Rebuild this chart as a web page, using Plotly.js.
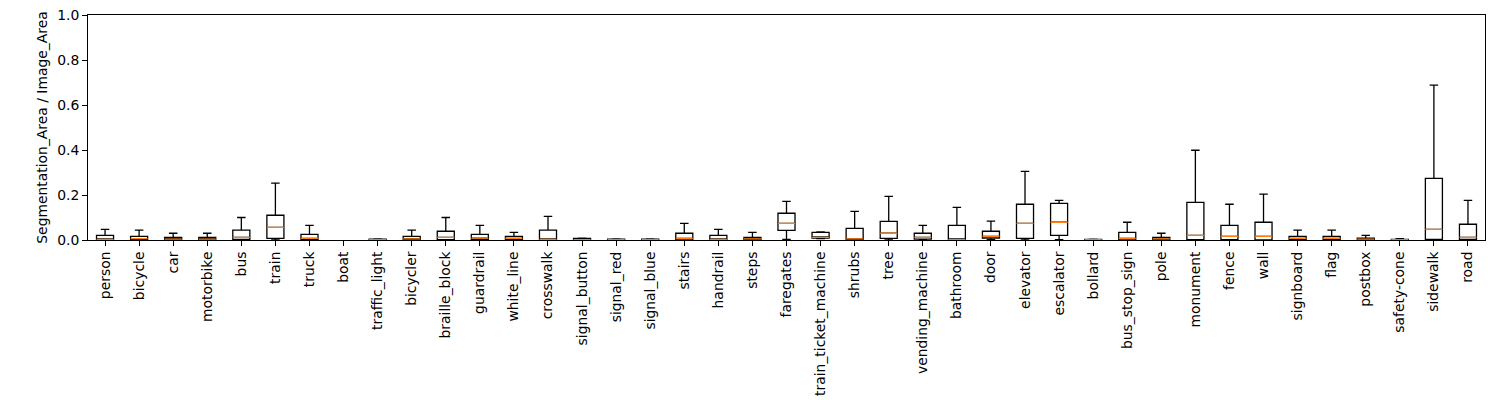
<!DOCTYPE html>
<html>
<head>
<meta charset="utf-8">
<script src="https://cdn.plot.ly/plotly-3.0.1.min.js"></script>
<style>html,body{margin:0;padding:0;background:#fff;}#chart{width:1500px;height:400px;}</style>
</head>
<body>
<div id="chart"></div>
<script>
const categories = ["person","bicycle","car","motorbike","bus","train","truck","boat","traffic_light","bicycler","braille_block","guardrail","white_line","crosswalk","signal_button","signal_red","signal_blue","stairs","handrail","steps","faregates","train_ticket_machine","shrubs","tree","vending_machine","bathroom","door","elevator","escalator","bollard","bus_stop_sign","pole","monument","fence","wall","signboard","flag","postbox","safety-cone","sidewalk","road"];

const lowerWhisker = [0,0,0,0,0,0,0,null,0,0,0,0,0,0,0,0,0,0,0,0,0.003,0.006,0,0,0,0,0.002,0,0.002,0,0,0,0,0,0,0,0,0,0,0,0];
const q1 = [0.001,0.002,0.002,0.002,0.003,0.0075,0.002,null,0.001,0.002,0.002,0.002,0.002,0.001,0.001,0.001,0.001,0.001,0.001,0.002,0.043,0.009,0.001,0.007,0.004,0.0005,0.009,0.007,0.021,0.001,0.001,0.001,0.002,0.002,0.001,0.002,0.002,0.001,0.001,0.003,0.003];
const medians = [0.003,0.006,0.004,0.004,0.012,0.056,0.007,null,0.002,0.005,0.012,0.008,0.007,0.003,0.002,0.002,0.002,0.007,0.003,0.005,0.074,0.012,0.005,0.030,0.012,0.002,0.016,0.074,0.079,0.002,0.007,0.005,0.021,0.016,0.016,0.007,0.007,0.004,0.002,0.047,0.012];
const q3 = [0.021,0.016,0.012,0.012,0.044,0.110,0.025,null,0.004,0.016,0.039,0.025,0.016,0.044,0.007,0.004,0.004,0.030,0.021,0.012,0.119,0.034,0.052,0.083,0.030,0.065,0.039,0.159,0.163,0.003,0.034,0.012,0.167,0.065,0.079,0.016,0.016,0.008,0.003,0.274,0.070];
const upperWhisker = [0.047,0.044,0.030,0.030,0.100,0.253,0.065,null,0.005,0.044,0.100,0.065,0.034,0.105,0.008,0.005,0.005,0.074,0.047,0.034,0.172,0.036,0.127,0.194,0.065,0.145,0.084,0.305,0.176,0.004,0.079,0.030,0.399,0.159,0.204,0.044,0.044,0.021,0.006,0.688,0.176];

const yTickVals = [0,0.2,0.4,0.6,0.8,1.0];
const yTickText = ["0.0","0.2","0.4","0.6","0.8","1.0"];

// keep only categories that have data (boat has none)
const idx = categories.map((c, i) => i).filter(i => medians[i] !== null);
const pick = arr => idx.map(i => arr[i]);

const FONT = 'DejaVu Sans, sans-serif';
const FS = 13.9;

const boxes = {
  type: 'box',
  x: pick(categories),
  q1: pick(q1),
  median: pick(medians),
  q3: pick(q3),
  lowerfence: pick(lowerWhisker),
  upperfence: pick(upperWhisker),
  boxpoints: false,
  width: 0.5,
  whiskerwidth: 0.5,
  fillcolor: 'rgba(255,255,255,0)',
  line: {color: '#000000', width: 1.3},
  hoverinfo: 'skip',
  showlegend: false
};

const medianLines = {
  type: 'box',
  x: pick(categories),
  q1: pick(medians),
  median: pick(medians),
  q3: pick(medians),
  lowerfence: pick(medians),
  upperfence: pick(medians),
  boxpoints: false,
  width: 0.5,
  whiskerwidth: 0,
  fillcolor: 'rgba(255,255,255,0)',
  line: {color: '#ff7f0e', width: 1.3},
  hoverinfo: 'skip',
  showlegend: false
};

const layout = {
  width: 1500,
  height: 400,
  margin: {l: 88, r: 15, t: 15, b: 160, pad: 0},
  paper_bgcolor: '#ffffff',
  plot_bgcolor: '#ffffff',
  boxmode: 'overlay',
  font: {family: FONT, size: FS, color: '#000000'},
  xaxis: {
    type: 'category',
    categoryorder: 'array',
    categoryarray: categories,
    tickvals: categories,
    range: [-0.5, categories.length - 0.5],
    tickangle: -90,
    ticks: 'outside',
    ticklen: 5,
    tickwidth: 1,
    tickcolor: '#000',
    showline: true,
    mirror: true,
    linecolor: '#000',
    linewidth: 1,
    showgrid: false,
    zeroline: false,
    tickfont: {family: FONT, size: FS, color: '#000'}
  },
  yaxis: {
    range: [0, 1],
    tickvals: yTickVals,
    ticktext: yTickText,
    ticks: 'outside',
    ticklen: 5,
    tickwidth: 1,
    tickcolor: '#000',
    showline: true,
    mirror: true,
    linecolor: '#000',
    linewidth: 1,
    showgrid: false,
    zeroline: false,
    tickfont: {family: FONT, size: FS, color: '#000'},
    title: {text: 'Segmentation_Area / Image_Area', font: {family: FONT, size: FS, color: '#000'}, standoff: 6}
  }
};

Plotly.newPlot('chart', [boxes, medianLines], layout, {staticPlot: true, displayModeBar: false});
</script>
</body>
</html>
